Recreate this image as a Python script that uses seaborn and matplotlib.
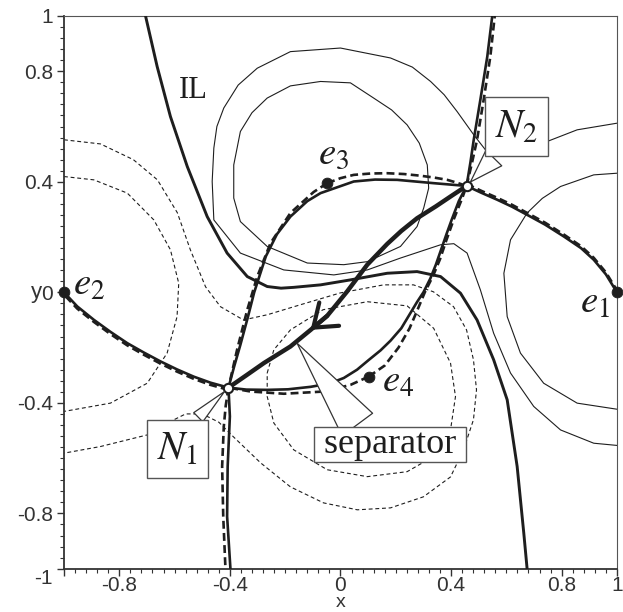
import matplotlib
matplotlib.use("Agg")
import matplotlib.pyplot as plt
import seaborn as sns
from matplotlib.ticker import FixedLocator, MultipleLocator

# ---- values (plot units) ----
# sources e1..e4 and null points N1, N2
charge_x = [1.0, -1.0, -0.048, 0.102]
charge_y = [0.0, 0.0, 0.395, -0.305]
null_x = [-0.405, 0.456]
null_y = [-0.345, 0.385]

# polarity inversion line (IL)
il_x = [-0.705, -0.663, -0.615, -0.554, -0.482, -0.41, -0.337, -0.265, -0.215, -0.169, -0.072, 0.036,
        0.169, 0.277, 0.362, 0.434, 0.494, 0.554, 0.603, 0.639, 0.663, 0.675]
il_y = [1.0, 0.817, 0.636, 0.455, 0.274, 0.142, 0.057, 0.021, 0.015, 0.018, 0.027, 0.045,
        0.069, 0.075, 0.057, -0.003, -0.1, -0.244, -0.389, -0.63, -0.871, -1.0]

# thin solid contours (positive)
pos_outer_x = [1.0, 0.856, 0.748, 0.633, 0.524, 0.482, 0.422, 0.375, 0.326, 0.26, 0.181, 0.0, -0.181,
               -0.301, -0.37, -0.422, -0.447, -0.458, -0.464, -0.458, -0.362, -0.205, -0.024, 0.097,
               0.217, 0.362, 0.41, 0.458, 0.506, 0.554, 0.615, 0.699, 0.796, 0.916, 1.0]
pos_outer_y = [0.612, 0.588, 0.546, 0.527, 0.516, 0.57, 0.654, 0.715, 0.763, 0.815, 0.848, 0.884, 0.871,
               0.811, 0.75, 0.667, 0.6, 0.522, 0.401, 0.262, 0.142, 0.081, 0.063, 0.081,
               0.124, 0.172, 0.176, 0.142, 0.009, -0.148, -0.292, -0.413, -0.498, -0.546, -0.554]
pos_e3_x = [-0.072, 0.036, 0.12, 0.185, 0.241, 0.285, 0.314, 0.319, 0.301, 0.277, 0.217, 0.097, 0.012,
            -0.12, -0.265, -0.362, -0.386, -0.386, -0.362, -0.32, -0.265, -0.181, -0.072]
pos_e3_y = [0.763, 0.758, 0.703, 0.66, 0.606, 0.54, 0.461, 0.377, 0.305, 0.238, 0.166, 0.111, 0.1,
            0.106, 0.166, 0.256, 0.341, 0.461, 0.582, 0.65, 0.703, 0.747, 0.763]
pos_e1_x = [1.0, 0.916, 0.796, 0.73, 0.675, 0.615, 0.591, 0.603, 0.651, 0.735, 0.856, 1.0]
pos_e1_y = [0.431, 0.425, 0.383, 0.34, 0.287, 0.19, 0.069, -0.088, -0.22, -0.329, -0.401, -0.423]

# thin dashed contours (negative)
neg_e2_x = [-1.0, -0.892, -0.771, -0.675, -0.615, -0.585, -0.591, -0.627, -0.699, -0.832, -1.0]
neg_e2_y = [0.419, 0.407, 0.359, 0.262, 0.154, 0.033, -0.088, -0.22, -0.329, -0.401, -0.431]
neg_outer_x = [-1.0, -0.868, -0.749, -0.662, -0.59, -0.543, -0.488, -0.434, -0.351, -0.264, -0.145, 0.0,
               0.156, 0.264, 0.336, 0.409, 0.456, 0.481, 0.492, 0.481, 0.445, 0.398, 0.3, 0.181, 0.061,
               -0.061, -0.181, -0.289, -0.387, -0.44, -0.5, -0.56, -0.62, -0.699, -0.868, -1.0]
neg_outer_y = [0.552, 0.537, 0.48, 0.407, 0.288, 0.154, 0.02, -0.052, -0.1, -0.081, -0.045, -0.002,
               0.027, 0.027, 0.002, -0.052, -0.136, -0.244, -0.353, -0.461, -0.57, -0.668, -0.74, -0.78,
               -0.787, -0.762, -0.704, -0.617, -0.523, -0.47, -0.44, -0.44, -0.47, -0.516, -0.558, -0.582]
neg_e4_x = [-0.265, -0.241, -0.181, -0.063, 0.097, 0.241, 0.337, 0.398, 0.416, 0.398, 0.337, 0.241, 0.097,
            -0.048, -0.169, -0.241, -0.265, -0.265]
neg_e4_y = [-0.292, -0.208, -0.136, -0.063, -0.034, -0.049, -0.13, -0.256, -0.377, -0.498, -0.594, -0.649,
            -0.667, -0.642, -0.57, -0.473, -0.377, -0.292]

# thick solid lines through the nulls
e2_n1_x = [-1.0, -0.952, -0.892, -0.832, -0.771, -0.711, -0.651, -0.591, -0.531, -0.47, -0.405]
e2_n1_y = [0.0, -0.051, -0.0995, -0.143, -0.184, -0.218, -0.25, -0.279, -0.305, -0.327, -0.345]
n2_e1_x = [0.456, 0.51, 0.567, 0.62, 0.687, 0.74, 0.808, 0.87, 0.916, 0.96, 1.0]
n2_e1_y = [0.385, 0.36, 0.335, 0.31, 0.274, 0.245, 0.202, 0.16, 0.118, 0.065, 0.0]
lens_up_x = [-0.405, -0.385, -0.362, -0.335, -0.312, -0.27, -0.23, -0.181, -0.12, -0.072, 0.048, 0.125,
             0.205, 0.337, 0.456]
lens_up_y = [-0.345, -0.27, -0.19, -0.09, 0.0, 0.13, 0.21, 0.274, 0.33, 0.359, 0.401, 0.408,
             0.407, 0.395, 0.385]
lens_low_x = [-0.405, -0.34, -0.265, -0.19, -0.108, -0.04, 0.012, 0.06, 0.102, 0.145, 0.181, 0.22, 0.25,
              0.277, 0.3, 0.325, 0.345, 0.368, 0.385, 0.402, 0.428, 0.456]
lens_low_y = [-0.345, -0.352, -0.353, -0.351, -0.342, -0.33, -0.31, -0.28, -0.245, -0.21, -0.175, -0.13,
              -0.08, -0.035, 0.0, 0.05, 0.1, 0.166, 0.215, 0.262, 0.33, 0.385]
bot_n1_x = [-0.398, -0.41, -0.408, -0.40, -0.405]
bot_n1_y = [-1.0, -0.811, -0.63, -0.449, -0.345]
n2_top_x = [0.456, 0.47, 0.482, 0.506, 0.531, 0.549]
n2_top_y = [0.385, 0.47, 0.552, 0.697, 0.853, 1.0]

# thick dashed lines (spines from the nulls to the sources)
d_e3_n2_x = [-0.048, 0.0, 0.048, 0.11, 0.169, 0.23, 0.289, 0.34, 0.386, 0.42, 0.456]
d_e3_n2_y = [0.395, 0.413, 0.425, 0.43, 0.431, 0.428, 0.422, 0.415, 0.407, 0.397, 0.385]
d_n2_e1_x = [0.456, 0.51, 0.567, 0.62, 0.687, 0.74, 0.808, 0.87, 0.916, 0.96, 1.0]
d_n2_e1_y = [0.392, 0.367, 0.342, 0.317, 0.281, 0.252, 0.209, 0.167, 0.125, 0.072, 0.007]
d_e3_n1_x = [-0.048, -0.097, -0.181, -0.253, -0.301, -0.337, -0.374, -0.405]
d_e3_n1_y = [0.395, 0.363, 0.287, 0.178, 0.057, -0.063, -0.208, -0.345]
d_n1_bot_x = [-0.405, -0.415, -0.422, -0.428, -0.424, -0.416]
d_n1_bot_y = [-0.345, -0.41, -0.486, -0.63, -0.811, -1.0]
d_e4_n1_x = [0.102, 0.036, -0.06, -0.205, -0.325, -0.405]
d_e4_n1_y = [-0.305, -0.335, -0.359, -0.367, -0.359, -0.345]
d_n1_e2_x = [-0.405, -0.47, -0.531, -0.591, -0.651, -0.711, -0.771, -0.832, -0.892, -0.952, -1.0]
d_n1_e2_y = [-0.353, -0.335, -0.313, -0.287, -0.258, -0.226, -0.192, -0.151, -0.107, -0.059, -0.008]
d_e4_n2_x = [0.102, 0.16, 0.21, 0.25, 0.28, 0.305, 0.335, 0.36, 0.38, 0.41, 0.44, 0.456]
d_e4_n2_y = [-0.305, -0.265, -0.2, -0.13, -0.06, 0.0, 0.06, 0.12, 0.18, 0.265, 0.34, 0.385]
d_n2_top_x = [0.456, 0.476, 0.494, 0.518, 0.542, 0.558]
d_n2_top_y = [0.385, 0.47, 0.552, 0.697, 0.853, 1.0]

# separator N2 -> N1
sep_x = [0.456, 0.40, 0.345, 0.277, 0.22, 0.169, 0.097, 0.024, -0.048, -0.108, -0.181, -0.277, -0.34, -0.405]
sep_y = [0.385, 0.348, 0.311, 0.268, 0.222, 0.175, 0.1, 0.003, -0.085, -0.136, -0.196, -0.256, -0.30, -0.345]

ticks = [-1, -0.8, -0.4, 0, 0.4, 0.8, 1]
xtick_labels = ['', '-0.8', '-0.4', '0', '0.4', '0.8', '1']
ytick_labels = ['-1', '-0.8', '-0.4', '0', '0.4', '0.8', '1']

# ---- drawing ----
sns.set_style("white")
plt.rcParams['font.family'] = ['Liberation Sans', 'DejaVu Sans']
plt.rcParams['mathtext.fontset'] = 'stix'
plt.rcParams['axes.unicode_minus'] = False

ink = '#1e1e1e'
fig = plt.figure(figsize=(6.23, 6.12), dpi=100)
ax = fig.add_axes([0.1027, 0.0708, 0.8876, 0.9031])


def curve(x, y, lw, dashes=None, z=3):
    kw = dict(color=ink, linewidth=lw, sort=False, estimator=None, ax=ax, zorder=z)
    if dashes is not None:
        kw['linestyle'] = (0, dashes)
    sns.lineplot(x=x, y=y, **kw)


thin = 0.8
for cx, cy in [(pos_outer_x, pos_outer_y), (pos_e3_x, pos_e3_y), (pos_e1_x, pos_e1_y)]:
    curve(cx, cy, thin, z=2)
for cx, cy in [(neg_e2_x, neg_e2_y), (neg_outer_x, neg_outer_y), (neg_e4_x, neg_e4_y)]:
    curve(cx, cy, thin, dashes=(3.5, 2.5), z=2)

thick = 1.9
curve(il_x, il_y, 2.1)
for cx, cy in [(e2_n1_x, e2_n1_y), (n2_e1_x, n2_e1_y), (lens_up_x, lens_up_y),
               (lens_low_x, lens_low_y), (bot_n1_x, bot_n1_y), (n2_top_x, n2_top_y)]:
    curve(cx, cy, thick)
for cx, cy in [(d_e3_n2_x, d_e3_n2_y), (d_n2_e1_x, d_n2_e1_y), (d_e3_n1_x, d_e3_n1_y),
               (d_n1_bot_x, d_n1_bot_y), (d_e4_n1_x, d_e4_n1_y), (d_n1_e2_x, d_n1_e2_y),
               (d_e4_n2_x, d_e4_n2_y), (d_n2_top_x, d_n2_top_y)]:
    curve(cx, cy, thick, dashes=(3.0, 1.6))

# separator with its arrow head
curve(sep_x, sep_y, 3.2, z=4)
ax.annotate('', xy=(sep_x[9], sep_y[9]), xytext=(sep_x[8], sep_y[8]),
            arrowprops=dict(arrowstyle='->,head_length=0.75,head_width=0.55', color=ink, lw=3,
                            mutation_scale=20, shrinkA=0, shrinkB=0), zorder=4)

sns.scatterplot(x=charge_x, y=charge_y, s=60, color=ink, edgecolor=ink, zorder=6, clip_on=False, ax=ax)
sns.scatterplot(x=null_x, y=null_y, s=45, color='white', edgecolor=ink, linewidth=1.5, zorder=6, ax=ax)

# labels
for lab, (tx, ty) in zip([r'$e_1$', r'$e_2$', r'$e_3$', r'$e_4$'],
                         [(0.868, -0.074), (-0.966, -0.009), (-0.083, 0.465), (0.151, -0.359)]):
    ax.text(tx, ty, lab, fontsize=28, color=ink, ha='left', va='baseline', zorder=7)
ax.text(-0.532, 0.729, 'IL', fontsize=22, family='Liberation Serif', color=ink,
        ha='center', va='center', zorder=7)

box = dict(boxstyle='square,pad=0.25', fc='white', ec='#555555', lw=1.0)
ax.annotate(r'$N_2$', xy=(null_x[1], null_y[1]), xytext=(0.638, 0.60), fontsize=29, color=ink,
            ha='center', va='center', bbox=box, zorder=7,
            arrowprops=dict(arrowstyle='wedge,tail_width=0.55,shrink_factor=0.5', fc='white',
                            ec='#333333', lw=0.9, relpos=(0.25, 0.0), shrinkB=4))
ax.annotate(r'$N_1$', xy=(null_x[0], null_y[0]), xytext=(-0.59, -0.566), fontsize=29, color=ink,
            ha='center', va='center', bbox=box, zorder=7,
            arrowprops=dict(arrowstyle='wedge,tail_width=0.32,shrink_factor=0.5', fc='white',
                            ec='#333333', lw=0.9, relpos=(0.7, 1.0), shrinkB=4))
ax.annotate(' separator ', xy=(-0.157, -0.184), xytext=(0.18, -0.552), fontsize=26, color=ink,
            family='Liberation Serif', ha='center', va='center', zorder=7,
            bbox=dict(boxstyle='square,pad=0.03', fc='white', ec='#555555', lw=1.0),
            arrowprops=dict(arrowstyle='wedge,tail_width=1.05,shrink_factor=0.5', fc='white',
                            ec='#333333', lw=0.9, relpos=(0.3, 1.0), shrinkB=0))

# axes
ax.set_xlim(-1, 1)
ax.set_ylim(-1, 1)
ax.xaxis.set_major_locator(FixedLocator(ticks))
ax.yaxis.set_major_locator(FixedLocator(ticks))
ax.set_xticklabels(xtick_labels)
ax.set_yticklabels(ytick_labels)
ax.xaxis.set_minor_locator(MultipleLocator(0.04))
ax.yaxis.set_minor_locator(MultipleLocator(0.04))
ax.tick_params(which='major', direction='out', length=5, width=1.0, color='#333333',
               labelsize=15, labelcolor='#333333', pad=3, left=True, bottom=True)
ax.tick_params(axis='x', which='major', pad=0.5)
ax.tick_params(which='minor', direction='out', length=3, width=0.8, color='#333333',
               left=True, bottom=True)
ax.get_yticklabels()[0].set_va('top')

for side in ['left', 'bottom']:
    ax.spines[side].set_linewidth(1.3)
    ax.spines[side].set_color('#333333')
for side in ['top', 'right']:
    ax.spines[side].set_linewidth(0.8)
    ax.spines[side].set_color('#555555')

ax.set_xlabel('x', fontsize=14, color='#333333', va='bottom')
ax.set_ylabel('y', fontsize=16, color='#333333', rotation=0, ha='center', va='center')
ax.xaxis.set_label_coords(0.5, -0.0765)
ax.yaxis.set_label_coords(-0.05, 0.5)

fig.savefig('out.png', dpi=100)
